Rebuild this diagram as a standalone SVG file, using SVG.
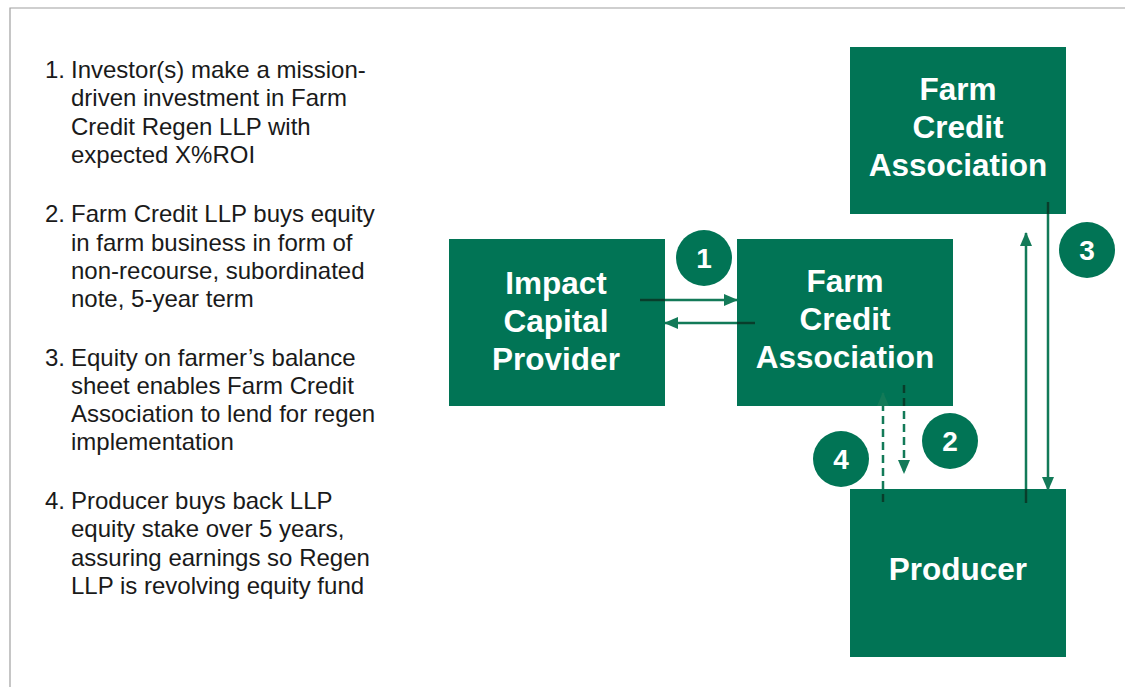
<svg xmlns="http://www.w3.org/2000/svg" width="1125" height="687" viewBox="0 0 1125 687">
<style>
.box{fill:#017455}
.bt{font-family:"Liberation Sans",Arial,sans-serif;font-weight:bold;font-size:31.5px;fill:#fff;text-anchor:middle}
.nt{font-family:"Liberation Sans",Arial,sans-serif;font-weight:bold;font-size:28px;fill:#fff;text-anchor:middle}
.lt{font-family:"Liberation Sans",Arial,sans-serif;font-size:24px;fill:#1a1a1a}
.ln{stroke:#137a58;stroke-width:2.5;fill:none}
.dk{stroke:#083d2b;stroke-width:2.5;fill:none}
.ds{stroke-dasharray:8 5}
</style>
<defs>
<marker id="ah" viewBox="0 0 14 12" refX="13" refY="6" markerWidth="14" markerHeight="12" markerUnits="userSpaceOnUse" orient="auto">
<path d="M0,0 L14,6 L0,12 Z" fill="#137a58"/>
</marker>
</defs>
<rect width="1125" height="687" fill="#fff"/>
<path d="M10,687 V8 H1125" fill="none" stroke="#a0a0a0" stroke-width="1.2"/>

<g id="legend" class="lt">
<text x="45" y="78">1.</text>
<text x="71" y="78">Investor(s) make a mission-</text>
<text x="71" y="106">driven investment in Farm</text>
<text x="71" y="135">Credit Regen LLP with</text>
<text x="71" y="163">expected X%ROI</text>
<text x="45" y="222">2.</text>
<text x="71" y="222">Farm Credit LLP buys equity</text>
<text x="71" y="251">in farm business in form of</text>
<text x="71" y="279">non-recourse, subordinated</text>
<text x="71" y="307">note, 5-year term</text>
<text x="45" y="366">3.</text>
<text x="71" y="366">Equity on farmer’s balance</text>
<text x="71" y="394">sheet enables Farm Credit</text>
<text x="71" y="422">Association to lend for regen</text>
<text x="71" y="450">implementation</text>
<text x="45" y="509">4.</text>
<text x="71" y="509">Producer buys back LLP</text>
<text x="71" y="537">equity stake over 5 years,</text>
<text x="71" y="566">assuring earnings so Regen</text>
<text x="71" y="594">LLP is revolving equity fund</text>
</g>

<g id="impact-capital-provider">
<rect class="box" x="449" y="239" width="216" height="167"/>
<text class="bt" x="556" y="294">Impact</text>
<text class="bt" x="556" y="332">Capital</text>
<text class="bt" x="556" y="370">Provider</text>
</g>
<g id="farm-credit-association-mid">
<rect class="box" x="737" y="239" width="216" height="167"/>
<text class="bt" x="845" y="292">Farm</text>
<text class="bt" x="845" y="330">Credit</text>
<text class="bt" x="845" y="368">Association</text>
</g>
<g id="farm-credit-association-top">
<rect class="box" x="850" y="47" width="216" height="167"/>
<text class="bt" x="958" y="100">Farm</text>
<text class="bt" x="958" y="138">Credit</text>
<text class="bt" x="958" y="176">Association</text>
</g>
<g id="producer">
<rect class="box" x="850" y="489" width="216" height="168"/>
<text class="bt" x="958" y="580">Producer</text>
</g>

<g id="connectors">
<line class="ln" x1="640" y1="300" x2="737" y2="300" marker-end="url(#ah)"/>
<line class="dk" x1="640" y1="300" x2="665" y2="300"/>
<line class="ln" x1="755" y1="323" x2="665" y2="323" marker-end="url(#ah)"/>
<line class="dk" x1="755" y1="323" x2="737" y2="323"/>
<line class="ln ds" x1="883" y1="502" x2="883" y2="393" marker-end="url(#ah)"/>
<line class="dk ds" x1="883" y1="502" x2="883" y2="489" stroke-dasharray="13"/>
<line class="ln ds" x1="904" y1="385" x2="904" y2="473" marker-end="url(#ah)"/>
<line class="dk ds" x1="904" y1="385" x2="904" y2="406"/>
<line class="ln" x1="1048" y1="202" x2="1048" y2="490" marker-end="url(#ah)"/>
<line class="dk" x1="1048" y1="202" x2="1048" y2="214"/>
<line class="ln" x1="1026" y1="503" x2="1026" y2="233" marker-end="url(#ah)"/>
<line class="dk" x1="1026" y1="503" x2="1026" y2="489"/>
</g>

<g id="step-1"><circle class="box" cx="704" cy="258" r="28"/><text class="nt" x="704" y="268">1</text></g>
<g id="step-2"><circle class="box" cx="950" cy="441" r="28"/><text class="nt" x="950" y="451">2</text></g>
<g id="step-3"><circle class="box" cx="1087" cy="250" r="28"/><text class="nt" x="1087" y="260">3</text></g>
<g id="step-4"><circle class="box" cx="841" cy="459" r="28"/><text class="nt" x="841" y="469">4</text></g>
</svg>
